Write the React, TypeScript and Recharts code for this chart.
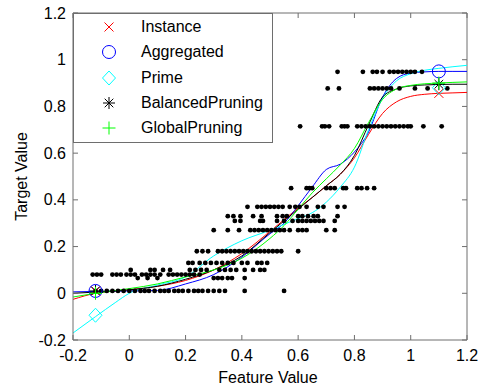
import React from 'react';
import { ComposedChart, Line, Scatter, XAxis, YAxis, Legend, ReferenceLine } from 'recharts';

const FONT = '"Liberation Sans", Arial, sans-serif';
const AXIS = '#6e6e6e';
const PLOT_TOP = 13;
const PLOT_RIGHT = 467;

const xTicks = [-0.2, 0, 0.2, 0.4, 0.6, 0.8, 1, 1.2];
const yTicks = [-0.2, 0, 0.2, 0.4, 0.6, 0.8, 1, 1.2];

// fitted curves, sampled along the feature axis
const curveX = [-0.2, -0.12, -0.05, 0, 0.1, 0.2, 0.3, 0.4, 0.5, 0.55, 0.6, 0.65, 0.7, 0.75, 0.8, 0.85, 0.9, 0.95, 1.0, 1.05, 1.1, 1.15, 1.2];
const instance = [-0.026, 0.0, 0.01, 0.015, 0.03, 0.055, 0.1, 0.17, 0.265, 0.315, 0.365, 0.41, 0.46, 0.51, 0.58, 0.68, 0.77, 0.82, 0.843, 0.852, 0.856, 0.858, 0.86];
const aggregated = [0.006, 0.008, 0.009, 0.01, 0.012, 0.04, 0.08, 0.155, 0.255, 0.3, 0.375, 0.455, 0.53, 0.553, 0.605, 0.69, 0.84, 0.92, 0.943, 0.948, 0.95, 0.95, 0.95];
const prime = [-0.17, -0.1, -0.04, 0.0, 0.035, 0.07, 0.16, 0.225, 0.27, 0.295, 0.32, 0.345, 0.39, 0.455, 0.54, 0.7, 0.835, 0.91, 0.94, 0.955, 0.963, 0.97, 0.976];
const balancedPruning = [0.0, 0.005, 0.01, 0.015, 0.03, 0.06, 0.1, 0.16, 0.26, 0.31, 0.36, 0.41, 0.46, 0.51, 0.59, 0.72, 0.84, 0.875, 0.888, 0.892, 0.894, 0.895, 0.895];
const globalPruning = [-0.016, 0.0, 0.012, 0.02, 0.04, 0.07, 0.1, 0.15, 0.235, 0.29, 0.36, 0.43, 0.49, 0.55, 0.62, 0.73, 0.83, 0.875, 0.89, 0.897, 0.9, 0.903, 0.905];

// test points marked on each model
const markX = [-0.12, 1.1];
const instanceMarks = [0.01, 0.856];
const aggregatedMarks = [0.01, 0.95];
const primeMarks = [-0.094, 0.88];
const balancedMarks = [0.01, 0.895];
const globalMarks = [0.0, 0.9];

// training samples: one list of feature values per target level
const at001 = [-0.12, -0.1, -0.08, -0.06, -0.04, -0.02, 0.0, 0.02, 0.04, 0.055, 0.07, 0.09, 0.11, 0.125, 0.14, 0.16, 0.175, 0.19, 0.21, 0.23, 0.245, 0.26, 0.28, 0.3, 0.32, 0.34, 0.41, 0.55];
const at0065 = [0.03, 0.065, 0.1, 0.3, 0.315, 0.33, 0.35, 0.365, 0.41];
const at008 = [-0.13, -0.115, -0.1, -0.06, -0.045, -0.03, -0.01, 0.005, 0.02, 0.045, 0.06, 0.075, 0.09, 0.11, 0.14, 0.155, 0.17, 0.185, 0.2, 0.215, 0.23, 0.25];
const at010 = [0.005, 0.075, 0.09, 0.12, 0.145, 0.215, 0.235, 0.255, 0.275, 0.32, 0.34, 0.36, 0.38, 0.41, 0.44, 0.465, 0.48];
const at013 = [0.21, 0.225, 0.25, 0.27, 0.29, 0.31, 0.33, 0.35, 0.37, 0.4, 0.42, 0.455, 0.47, 0.49];
const at018 = [0.24, 0.26, 0.28, 0.315, 0.33, 0.345, 0.36, 0.375, 0.39, 0.405, 0.42, 0.435, 0.45, 0.465, 0.48, 0.495, 0.51, 0.525, 0.54, 0.6];
const at027 = [0.3, 0.35, 0.39, 0.43, 0.445, 0.46, 0.475, 0.49, 0.505, 0.52, 0.535, 0.55, 0.57, 0.6, 0.615, 0.63, 0.7, 0.73];
const at031 = [0.375, 0.395, 0.465, 0.475, 0.525, 0.55, 0.58, 0.6, 0.615, 0.63, 0.645, 0.66, 0.675, 0.69, 0.73];
const at033 = [0.35, 0.37, 0.395, 0.44, 0.47, 0.525, 0.545, 0.56, 0.6, 0.615, 0.635, 0.655, 0.67, 0.74];
const at037 = [0.42, 0.455, 0.47, 0.485, 0.5, 0.515, 0.53, 0.545, 0.57, 0.59, 0.605, 0.63, 0.67, 0.69, 0.74, 0.765];
const at045 = [0.575, 0.63, 0.64, 0.65, 0.7, 0.715, 0.73, 0.76, 0.77, 0.81, 0.825, 0.845, 0.87];
const at0715 = [0.607, 0.685, 0.695, 0.71, 0.755, 0.765, 0.775, 0.81, 0.825, 0.84, 0.855, 0.87, 0.885, 0.9, 0.915, 0.93, 0.945, 0.96, 0.975, 0.99, 1.0, 1.045, 1.11];
const at0877 = [0.705, 0.745, 0.855, 0.87, 0.885, 0.9, 0.915, 0.93, 0.96, 1.015, 1.06, 1.13];
const at0948 = [0.74, 0.83, 0.865, 0.88, 0.9, 0.925, 0.94, 0.955, 0.97, 0.985, 1.0, 1.015, 1.04];

const sampleRows: [number, number[]][] = [
  [0.01, at001], [0.065, at0065], [0.08, at008], [0.1, at010], [0.13, at013],
  [0.18, at018], [0.27, at027], [0.31, at031], [0.33, at033], [0.37, at037],
  [0.45, at045], [0.715, at0715], [0.877, at0877], [0.948, at0948],
];
const samples = sampleRows.flatMap(([y, xs]) => xs.map((x) => ({ x, y })));

const curves = curveX.map((x, i) => ({
  x,
  instance: instance[i],
  aggregated: aggregated[i],
  prime: prime[i],
  balanced: balancedPruning[i],
  global: globalPruning[i],
}));

type Kind = 'x' | 'o' | 'd' | '*' | '+';
const series: { key: string; name: string; color: string; kind: Kind; marks: number[] }[] = [
  { key: 'instance', name: 'Instance', color: '#ff0000', kind: 'x', marks: instanceMarks },
  { key: 'aggregated', name: 'Aggregated', color: '#0000ff', kind: 'o', marks: aggregatedMarks },
  { key: 'prime', name: 'Prime', color: '#00ffff', kind: 'd', marks: primeMarks },
  { key: 'balanced', name: 'BalancedPruning', color: '#000000', kind: '*', marks: balancedMarks },
  { key: 'global', name: 'GlobalPruning', color: '#00ff00', kind: '+', marks: globalMarks },
];

function Mark({ kind, cx, cy, color }: { kind: Kind; cx: number; cy: number; color: string }) {
  const p = { stroke: color, strokeWidth: 1, fill: 'none' };
  if (kind === 'x')
    return (
      <g {...p}>
        <line x1={cx - 4.5} y1={cy - 4.5} x2={cx + 4.5} y2={cy + 4.5} />
        <line x1={cx - 4.5} y1={cy + 4.5} x2={cx + 4.5} y2={cy - 4.5} />
      </g>
    );
  if (kind === 'o') return <circle cx={cx} cy={cy} r={6.5} {...p} />;
  if (kind === 'd')
    return <polygon points={`${cx},${cy - 7} ${cx + 6.5},${cy} ${cx},${cy + 7} ${cx - 6.5},${cy}`} {...p} />;
  if (kind === '*')
    return (
      <g {...p}>
        <line x1={cx - 6} y1={cy} x2={cx + 6} y2={cy} />
        <line x1={cx} y1={cy - 6} x2={cx} y2={cy + 6} />
        <line x1={cx - 4.3} y1={cy - 4.3} x2={cx + 4.3} y2={cy + 4.3} />
        <line x1={cx - 4.3} y1={cy + 4.3} x2={cx + 4.3} y2={cy - 4.3} />
      </g>
    );
  return (
    <g {...p}>
      <line x1={cx - 6.5} y1={cy} x2={cx + 6.5} y2={cy} />
      <line x1={cx} y1={cy - 6.5} x2={cx} y2={cy + 6.5} />
    </g>
  );
}

const fmt = (v: number) => String(Math.round(v * 10) / 10);

function XTick({ x, y, payload }: any) {
  return (
    <g>
      <line x1={x} x2={x} y1={y} y2={y - 5} stroke={AXIS} />
      <line x1={x} x2={x} y1={PLOT_TOP} y2={PLOT_TOP + 5} stroke={AXIS} />
      <text x={x} y={y + 21} textAnchor="middle" fontSize={16} fontFamily={FONT} fill="#000">
        {fmt(payload.value)}
      </text>
    </g>
  );
}

function YTick({ x, y, payload }: any) {
  return (
    <g>
      <line x1={x} x2={x + 5} y1={y} y2={y} stroke={AXIS} />
      <line x1={PLOT_RIGHT} x2={PLOT_RIGHT - 5} y1={y} y2={y} stroke={AXIS} />
      <text x={x - 7} y={y + 5.5} textAnchor="end" fontSize={16} fontFamily={FONT} fill="#000">
        {fmt(payload.value)}
      </text>
    </g>
  );
}

const XTitle = () => (
  <text x={268} y={383} textAnchor="middle" fontSize={16} fontFamily={FONT} fill="#000">
    Feature Value
  </text>
);

const YTitle = () => (
  <text x={27} y={176.5} transform="rotate(-90 27 176.5)" textAnchor="middle" fontSize={16} fontFamily={FONT} fill="#000">
    Target Value
  </text>
);

function LegendBox() {
  return (
    <div
      style={{
        width: 200, height: 130, boxSizing: 'border-box', border: `1px solid ${AXIS}`,
        background: '#fff', position: 'relative', fontFamily: FONT, fontSize: 16, color: '#000',
      }}
    >
      {series.map((s, i) => (
        <div
          key={s.key}
          style={{ position: 'absolute', left: 0, top: 3 + i * 25.3, height: 20, display: 'flex', alignItems: 'center' }}
        >
          <svg width={20} height={20} style={{ marginLeft: 25, display: 'block' }}>
            <Mark kind={s.kind} cx={10} cy={10} color={s.color} />
          </svg>
          <span style={{ marginLeft: 22, lineHeight: '20px', whiteSpace: 'nowrap' }}>{s.name}</span>
        </div>
      ))}
    </div>
  );
}

export default function App() {
  return (
    <div style={{ width: 487, height: 389, background: '#fff' }}>
      <style>{'body{margin:0;overflow:hidden;}'}</style>
      <ComposedChart width={487} height={389} data={curves} margin={{ top: 13, right: 20, bottom: 4, left: 13 }}>
        <XAxis
          dataKey="x" type="number" domain={[-0.2, 1.2]} ticks={xTicks} interval={0}
          allowDataOverflow height={45} tickSize={0} tickMargin={0}
          axisLine={{ stroke: AXIS }} tickLine={false} tick={<XTick />} label={<XTitle />}
        />
        <YAxis
          type="number" domain={[-0.2, 1.2]} ticks={yTicks} interval={0}
          allowDataOverflow width={60} tickSize={0} tickMargin={0}
          axisLine={{ stroke: AXIS }} tickLine={false} tick={<YTick />} label={<YTitle />}
        />
        <ReferenceLine y={1.2} stroke={AXIS} />
        <ReferenceLine x={1.2} stroke={AXIS} />
        <Scatter
          data={samples} dataKey="y" isAnimationActive={false} legendType="none"
          shape={(p: any) => <circle cx={p.cx} cy={p.cy} r={2.4} fill="#000" />}
        />
        {series.map((s) => (
          <Line
            key={s.key} dataKey={s.key} name={s.name} type="monotone" stroke={s.color}
            strokeWidth={1} dot={false} activeDot={false} isAnimationActive={false}
          />
        ))}
        {series.map((s) => (
          <Scatter
            key={`${s.key}-marks`} data={markX.map((x, i) => ({ x, y: s.marks[i] }))} dataKey="y"
            isAnimationActive={false} legendType="none"
            shape={(p: any) => <Mark kind={s.kind} cx={p.cx} cy={p.cy} color={s.color} />}
          />
        ))}
        <Legend
          layout="vertical" align="center" verticalAlign="middle"
          wrapperStyle={{ left: 73, top: 13, width: 200, height: 130 }}
          content={() => <LegendBox />}
        />
      </ComposedChart>
    </div>
  );
}
